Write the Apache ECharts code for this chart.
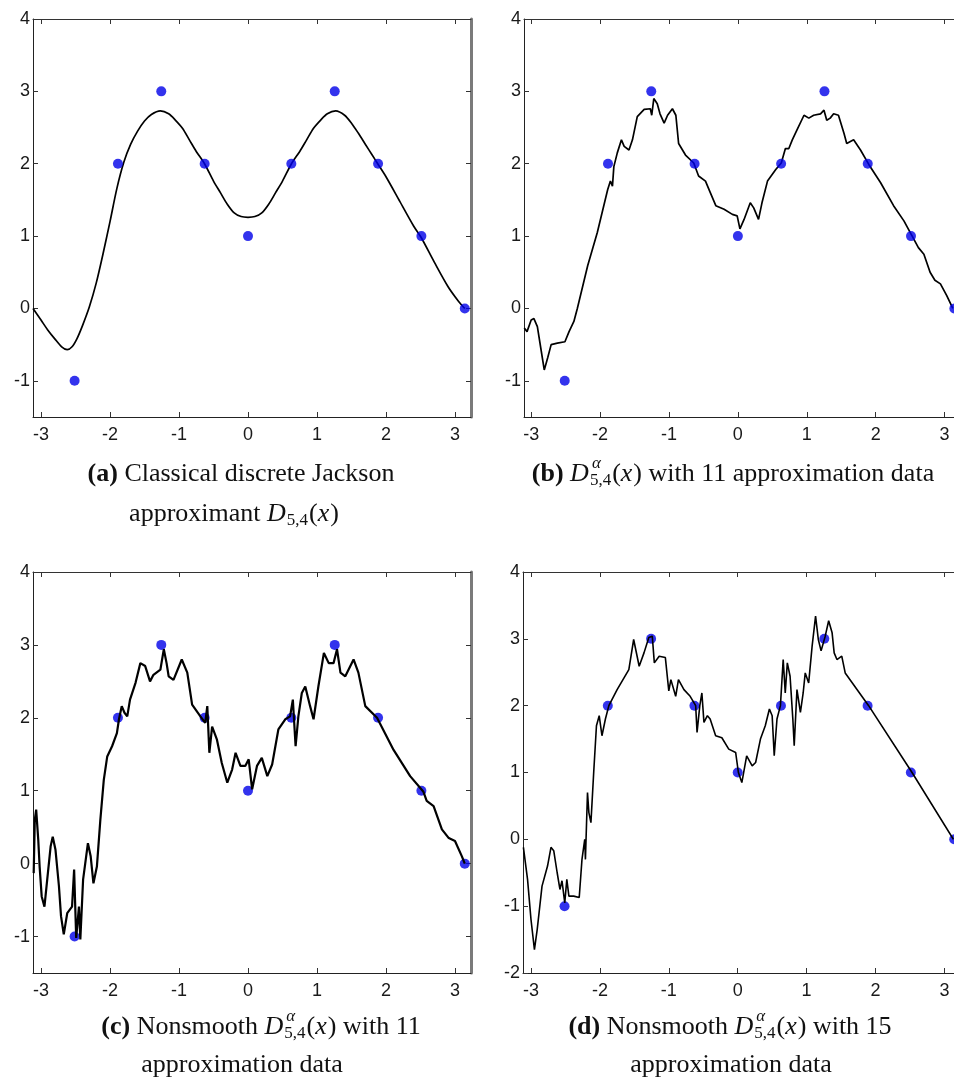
<!DOCTYPE html>
<html><head><meta charset="utf-8">
<script src="https://cdn.jsdelivr.net/npm/echarts@6/dist/echarts.min.js"></script>
<style>html,body{margin:0;padding:0;background:#fff}#c{width:954px;height:1080px}</style>
</head><body><div id="c"></div>
<script>
// ---------- data ----------
const xTickLabels = [-3, -2, -1, 0, 1, 2, 3];
const yTickLabelsABC = [-1, 0, 1, 2, 3, 4];
const yTickLabelsD = [-2, -1, 0, 1, 2, 3, 4];

const dataX = [-2.513, -1.885, -1.257, -0.628, 0, 0.628, 1.257, 1.885, 2.513, 3.142];
const dataY = [-1, 2, 3, 2, 1, 2, 3, 2, 1, 0];

const curveA = [[-3.116,0],[-3.0,-0.16],[-2.9,-0.30],[-2.8,-0.42],[-2.7,-0.53],[-2.62,-0.57],[-2.55,-0.53],[-2.48,-0.42],[-2.4,-0.24],[-2.3,0.02],[-2.2,0.35],[-2.1,0.76],[-2.0,1.2],[-1.9,1.66],[-1.8,2.02],[-1.7,2.27],[-1.6,2.45],[-1.5,2.59],[-1.4,2.68],[-1.27,2.73],[-1.15,2.69],[-1.05,2.60],[-0.95,2.49],[-0.85,2.33],[-0.75,2.17],[-0.63,2.0],[-0.5,1.76],[-0.4,1.60],[-0.3,1.44],[-0.2,1.32],[-0.1,1.27],[0,1.26],[0.1,1.27],[0.2,1.32],[0.3,1.44],[0.4,1.60],[0.5,1.76],[0.63,2.0],[0.75,2.17],[0.85,2.33],[0.95,2.49],[1.05,2.60],[1.15,2.69],[1.27,2.73],[1.4,2.67],[1.5,2.56],[1.6,2.42],[1.7,2.27],[1.8,2.12],[1.88,2.0],[2.0,1.82],[2.2,1.48],[2.4,1.14],[2.51,0.98],[2.7,0.64],[2.9,0.30],[3.05,0.10],[3.142,0]];

const curveB = [[-3.10,-0.27],[-3.06,-0.32],[-3.00,-0.16],[-2.96,-0.14],[-2.91,-0.25],[-2.86,-0.55],[-2.81,-0.85],[-2.76,-0.68],[-2.71,-0.50],[-2.62,-0.48],[-2.51,-0.46],[-2.45,-0.32],[-2.38,-0.18],[-2.33,0],[-2.18,0.59],[-2.04,1.05],[-1.89,1.64],[-1.85,1.76],[-1.82,1.69],[-1.80,1.96],[-1.75,2.15],[-1.69,2.33],[-1.65,2.24],[-1.58,2.19],[-1.53,2.33],[-1.46,2.65],[-1.36,2.75],[-1.27,2.76],[-1.25,2.67],[-1.22,2.90],[-1.17,2.83],[-1.13,2.69],[-1.07,2.56],[-1.02,2.67],[-0.95,2.76],[-0.90,2.67],[-0.86,2.28],[-0.76,2.12],[-0.64,2.01],[-0.57,1.83],[-0.47,1.76],[-0.40,1.60],[-0.32,1.42],[-0.20,1.37],[-0.08,1.30],[-0.01,1.28],[0.03,1.10],[0.09,1.23],[0.18,1.46],[0.23,1.39],[0.30,1.23],[0.35,1.46],[0.43,1.76],[0.55,1.92],[0.63,2.01],[0.69,2.21],[0.74,2.21],[0.79,2.33],[0.86,2.47],[0.96,2.67],[1.03,2.63],[1.10,2.67],[1.20,2.69],[1.25,2.74],[1.29,2.60],[1.34,2.63],[1.39,2.69],[1.46,2.67],[1.54,2.42],[1.58,2.28],[1.68,2.33],[1.78,2.19],[1.90,1.99],[2.07,1.74],[2.26,1.42],[2.41,1.21],[2.53,1.00],[2.62,0.84],[2.70,0.75],[2.79,0.50],[2.86,0.39],[2.94,0.34],[3.03,0.18],[3.12,0]];

const curveC = [[-3.106,-0.13],[-3.09,0.60],[-3.07,0.74],[-3.04,0.33],[-3.02,-0.04],[-2.99,-0.45],[-2.95,-0.59],[-2.91,-0.22],[-2.86,0.24],[-2.83,0.37],[-2.79,0.19],[-2.74,-0.31],[-2.71,-0.72],[-2.67,-0.97],[-2.62,-0.68],[-2.55,-0.59],[-2.52,-0.08],[-2.49,-1.02],[-2.45,-0.59],[-2.43,-1.04],[-2.39,-0.22],[-2.32,0.28],[-2.28,0.10],[-2.24,-0.27],[-2.19,-0.04],[-2.14,0.60],[-2.09,1.15],[-2.04,1.47],[-1.97,1.61],[-1.90,1.79],[-1.87,1.98],[-1.83,2.16],[-1.79,2.07],[-1.75,2.02],[-1.71,2.25],[-1.63,2.48],[-1.56,2.75],[-1.49,2.71],[-1.42,2.50],[-1.37,2.59],[-1.27,2.66],[-1.22,2.94],[-1.18,2.75],[-1.15,2.57],[-1.08,2.52],[-0.96,2.80],[-0.88,2.62],[-0.81,2.18],[-0.69,2.02],[-0.62,1.93],[-0.59,2.16],[-0.56,1.52],[-0.52,1.88],[-0.45,1.70],[-0.38,1.38],[-0.30,1.11],[-0.23,1.29],[-0.18,1.52],[-0.11,1.34],[-0.04,1.34],[0.01,1.43],[0.06,1.02],[0.13,1.34],[0.20,1.45],[0.28,1.20],[0.35,1.36],[0.44,1.84],[0.54,1.98],[0.61,2.02],[0.65,2.25],[0.69,1.61],[0.73,2.02],[0.78,2.34],[0.83,2.43],[0.90,2.16],[0.95,1.98],[1.02,2.43],[1.10,2.89],[1.17,2.75],[1.24,2.75],[1.29,2.94],[1.34,2.62],[1.41,2.57],[1.53,2.80],[1.60,2.62],[1.70,2.16],[1.87,2.00],[2.11,1.56],[2.35,1.20],[2.54,0.99],[2.59,0.86],[2.69,0.79],[2.81,0.47],[2.91,0.35],[3.00,0.31],[3.10,0.10],[3.142,0]];

const curveD = [[-3.11,-0.12],[-3.05,-0.60],[-3.00,-1.20],[-2.95,-1.65],[-2.91,-1.35],[-2.84,-0.70],[-2.76,-0.40],[-2.71,-0.12],[-2.67,-0.17],[-2.62,-0.50],[-2.58,-0.75],[-2.55,-0.62],[-2.51,-0.95],[-2.48,-0.60],[-2.45,-0.85],[-2.38,-0.85],[-2.30,-0.87],[-2.26,-0.30],[-2.22,0],[-2.21,-0.30],[-2.18,0.70],[-2.16,0.40],[-2.13,0.25],[-2.09,1.00],[-2.05,1.70],[-2.01,1.85],[-1.97,1.55],[-1.92,1.80],[-1.87,2.00],[-1.75,2.24],[-1.58,2.54],[-1.51,2.99],[-1.43,2.59],[-1.36,2.79],[-1.29,3.02],[-1.24,3.04],[-1.21,2.64],[-1.14,2.74],[-1.05,2.72],[-1.00,2.22],[-0.97,2.39],[-0.90,2.14],[-0.86,2.39],[-0.78,2.24],[-0.69,2.14],[-0.61,2.00],[-0.59,1.60],[-0.55,2.00],[-0.52,2.19],[-0.49,1.75],[-0.44,1.85],[-0.40,1.80],[-0.32,1.55],[-0.23,1.52],[-0.13,1.35],[-0.03,1.30],[0.01,1.00],[0.06,0.85],[0.13,1.25],[0.21,1.10],[0.26,1.15],[0.33,1.50],[0.40,1.70],[0.46,1.95],[0.50,1.85],[0.53,1.25],[0.57,1.80],[0.62,2.00],[0.66,2.69],[0.69,2.19],[0.72,2.64],[0.76,2.44],[0.80,1.80],[0.82,1.40],[0.86,2.24],[0.91,1.90],[0.95,2.19],[0.98,2.49],[1.03,2.34],[1.08,2.89],[1.13,3.34],[1.17,2.99],[1.21,2.82],[1.27,3.04],[1.32,3.27],[1.37,3.09],[1.40,2.79],[1.44,2.69],[1.51,2.74],[1.56,2.49],[1.90,2.00],[2.53,1.00],[3.13,0]];

// ---------- layout ----------
const panels = [
  {left:33,  top:19,  width:438, height:398, xmin:-3.116, xmax:3.232, ymin:-1.5, ymax:4, yt:yTickLabelsABC, curve:curveA, smooth:0.3,   lw:1.7, rightBorder:true,  ptsOnTop:true},
  {left:524, top:19,  width:430, height:398, xmin:-3.104, xmax:3.137, ymin:-1.5, ymax:4, yt:yTickLabelsABC, curve:curveB, smooth:false, lw:1.7, rightBorder:false, ptsOnTop:true},
  {left:33,  top:572, width:438, height:401, xmin:-3.116, xmax:3.232, ymin:-1.5, ymax:4, yt:yTickLabelsABC, curve:curveC, smooth:false, lw:2.2, rightBorder:true,  ptsOnTop:false},
  {left:523, top:572, width:431, height:401, xmin:-3.116, xmax:3.139, ymin:-2,   ymax:4, yt:yTickLabelsD,   curve:curveD, smooth:false, lw:1.6, rightBorder:false, ptsOnTop:false}
];

const labelFont = {fontFamily:'Liberation Sans', fontSize:18, color:'#1a1a1a'};
const grid=[], xAxis=[], yAxis=[], series=[];
panels.forEach((p,i)=>{
  grid.push({left:p.left, top:p.top, width:p.width, height:p.height, containLabel:false});
  const tick = (vals)=>({show:true, inside:true, length:5, customValues:vals, lineStyle:{color:'#333', width:1}});
  xAxis.push({type:'value', gridIndex:i, position:'bottom', min:p.xmin, max:p.xmax,
    axisLine:{show:true, onZero:false, lineStyle:{color:'#222', width:1}},
    axisTick:tick(xTickLabels), splitLine:{show:false},
    axisLabel:Object.assign({show:true, customValues:xTickLabels, margin:9, formatter:v=>String(v)}, labelFont)});
  xAxis.push({type:'value', gridIndex:i, position:'top', min:p.xmin, max:p.xmax,
    axisLine:{show:true, onZero:false, lineStyle:{color:'#333', width:1}},
    axisTick:tick(xTickLabels), splitLine:{show:false}, axisLabel:{show:false}});
  yAxis.push({type:'value', gridIndex:i, position:'left', min:p.ymin, max:p.ymax,
    axisLine:{show:true, onZero:false, lineStyle:{color:'#222', width:1}},
    axisTick:tick(p.yt), splitLine:{show:false},
    axisLabel:Object.assign({show:true, customValues:p.yt, margin:3, formatter:v=>String(v)}, labelFont)});
  yAxis.push({type:'value', gridIndex:i, position:'right', min:p.ymin, max:p.ymax, show:p.rightBorder,
    axisLine:{show:true, onZero:false, lineStyle:{color:'#7a7a7a', width:3}},
    axisTick:tick(p.yt), splitLine:{show:false}, axisLabel:{show:false}});
  const lineS = {type:'line', xAxisIndex:2*i, yAxisIndex:2*i, data:p.curve, showSymbol:false, symbol:'none',
    smooth:p.smooth, lineStyle:{color:'#000', width:p.lw}, silent:true, animation:false, z:3};
  const ptsS = {type:'scatter', xAxisIndex:2*i, yAxisIndex:2*i, data:dataX.map((x,k)=>[x,dataY[k]]),
    symbol:'circle', symbolSize:10, itemStyle:{color:'#0000e8'}, clip:false, animation:false, z:p.ptsOnTop?4:2};
  series.push(lineS, ptsS);
});

// ---------- captions ----------
const SERIF = '"Liberation Serif", "DejaVu Serif", serif';
const MAIN = 26, SCRIPT = 17;
const mctx = document.createElement('canvas').getContext('2d');
function fnt(size, bold, italic){ return (italic?'italic ':'') + (bold?'bold ':'') + size + 'px ' + SERIF; }
function measure(t, f){ mctx.font = f; return mctx.measureText(t).width; }
function captionLine(parts, cx, cy){
  const items=[]; let x=0;
  parts.forEach(p=>{
    if (p.sup !== undefined){
      const fs = fnt(SCRIPT,false,true), fb = fnt(SCRIPT,false,false);
      const w1 = measure(p.sup, fs), w2 = p.sub ? measure(p.sub, fb) : 0;
      items.push({t:p.sup, f:fs, x:x+2, dy:-10});
      if (p.sub) items.push({t:p.sub, f:fb, x:x, dy:7});
      x += Math.max(w1+2, w2) + 1;
    } else if (p.sub !== undefined){
      const fb = fnt(SCRIPT,false,false);
      items.push({t:p.sub, f:fb, x:x, dy:7});
      x += measure(p.sub, fb) + 1;
    } else {
      const f = fnt(MAIN, !!p.b, !!p.i);
      items.push({t:p.t, f:f, x:x, dy:0});
      x += measure(p.t, f) + (p.i ? 1 : 0);
    }
  });
  const x0 = cx - x/2;
  return items.map(it=>({type:'text', x:x0+it.x, y:cy+it.dy, silent:true,
    style:{text:it.t, font:it.f, fill:'#111', align:'left', verticalAlign:'middle', textAlign:'left', textVerticalAlign:'middle'}}));
}
const Dalpha = [{t:'D', i:true}, {sup:'α', sub:'5,4'}, {t:'('}, {t:'x', i:true}, {t:')'}];
const graphic = [].concat(
  captionLine([{t:'(a)', b:true}, {t:' Classical discrete Jackson'}], 241, 474),
  captionLine([{t:'approximant '}, {t:'D', i:true}, {sub:'5,4'}, {t:'('}, {t:'x', i:true}, {t:')'}], 234, 514),
  captionLine([{t:'(b)', b:true}, {t:' '}].concat(Dalpha, [{t:' with 11 approximation data'}]), 733, 474),
  captionLine([{t:'(c)', b:true}, {t:' Nonsmooth '}].concat(Dalpha, [{t:' with 11'}]), 261, 1027),
  captionLine([{t:'approximation data'}], 242, 1065),
  captionLine([{t:'(d)', b:true}, {t:' Nonsmooth '}].concat(Dalpha, [{t:' with 15'}]), 730, 1027),
  captionLine([{t:'approximation data'}], 731, 1065)
);

const chart = echarts.init(document.getElementById('c'), null, {renderer:'canvas'});
chart.setOption({backgroundColor:'#fff', animation:false, grid, xAxis, yAxis, series, graphic});
</script></body></html>
